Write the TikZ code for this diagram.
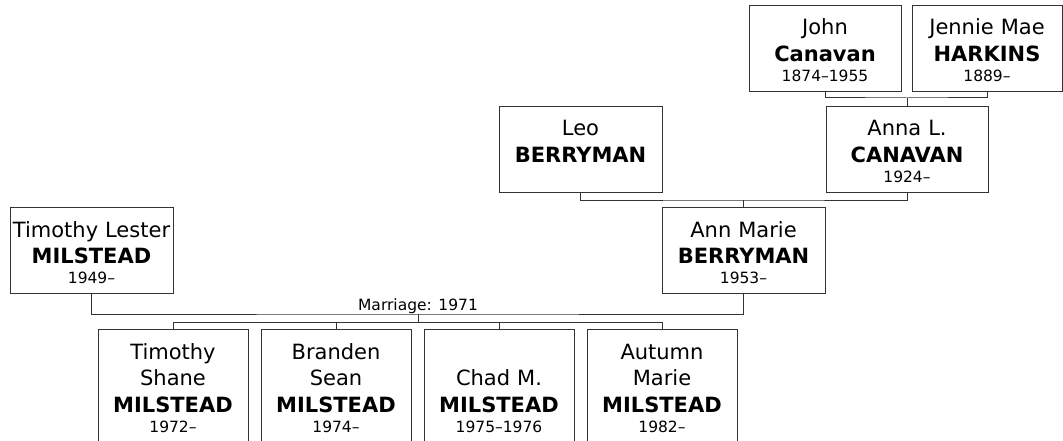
\documentclass[tikz,border=0pt]{standalone}
\usepackage{fontspec}
\setmainfont{DejaVu Sans}
\usepackage{tikz}
\usetikzlibrary{positioning, calc}

\newcommand{\lifespan}[1]{{\fontsize{15.5}{20}\selectfont #1}}

\begin{document}
\begin{tikzpicture}[x=1pt, y=-1pt,
    person/.style={draw=black!80, line width=1pt, anchor=north, align=center,
        text width=#1, inner sep=0pt, text height=29.5pt, text depth=56.5pt,
        font=\fontsize{21}{26.5}\selectfont},
    person/.default=163pt,
    child/.style={person=150pt, text depth=120pt},
    link/.style={draw=black!80, line width=1pt}]
    \useasboundingbox (0,0) rectangle (1063,441);

    % Grandparents
    \node[person=152pt] (john) at (825,5) {John\\\textbf{Canavan}\\[-6.5pt]\lifespan{1874–1955}};
    \node[person=150pt] (jennie) at (987,5) {Jennie Mae\\\textbf{HARKINS}\\[-6.5pt]\lifespan{1889–}};
    \node[person] (leo) at (580.5,106) {Leo\\\textbf{BERRYMAN}};
    \node[person=162pt] (anna) at (907,106) {Anna L.\\\textbf{CANAVAN}\\[-6.5pt]\lifespan{1924–}};

    % Parents
    \node[person] (timL) at (91.5,207) {Timothy Lester\\\textbf{MILSTEAD}\\[-6.5pt]\lifespan{1949–}};
    \node[person] (annM) at (743.5,207) {Ann Marie\\\textbf{BERRYMAN}\\[-6.5pt]\lifespan{1953–}};

    % Children
    \node[child] (kid1) at (173,329) {Timothy\\Shane\\\textbf{MILSTEAD}\\[-6.5pt]\lifespan{1972–}};
    \node[child] (kid2) at (336,329) {Branden\\Sean\\\textbf{MILSTEAD}\\[-6.5pt]\lifespan{1974–}};
    \node[child] (kid3) at (499,329) {\phantom{X}\\Chad M.\\\textbf{MILSTEAD}\\[-6.5pt]\lifespan{1975–1976}};
    \node[child] (kid4) at (662,329) {Autumn\\Marie\\\textbf{MILSTEAD}\\[-6.5pt]\lifespan{1982–}};

    % Junctions
    \coordinate (cana) at (907,98);
    \coordinate (berr) at (743.5,200);
    \coordinate (marr) at (418,314);
    \coordinate (kids) at (418,322);

    % Couples
    \draw[link] (john.south) |- (cana) -| (jennie.south);
    \draw[link] (cana) -- (anna.north);
    \draw[link] (leo.south) |- (berr) -| (anna.south);
    \draw[link] (berr) -- (annM.north);
    \draw[link] (timL.south) |- (marr) -| (annM.south);
    \node[font=\fontsize{15.5}{20}\selectfont, anchor=base] (marrlabel) at (418,310) {Marriage: 1971};

    % Children links
    \draw[link] (marr) -- (kids);
    \foreach \k in {kid1, kid2, kid3, kid4}
        \draw[link] (kids) -| (\k.north);
\end{tikzpicture}
\end{document}
